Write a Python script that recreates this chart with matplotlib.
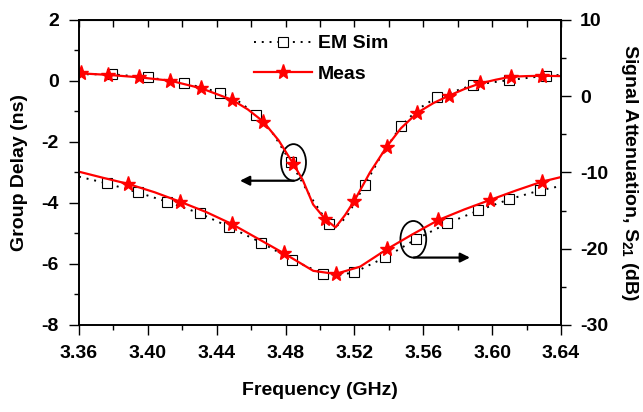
"""
Group delay and S21 of the NGD circuit: EM simulation vs measurement.
"""

import matplotlib
matplotlib.use('Agg')
import matplotlib.pyplot as plt
from matplotlib.lines import Line2D
from matplotlib.patches import Ellipse
from matplotlib.ticker import MultipleLocator, FormatStrFormatter

# ---- data ----
# group delay, measured (ns); *_mark flags where a star marker sits
gd_meas_f = [3.360, 3.361, 3.377, 3.395, 3.413, 3.431, 3.449, 3.458, 3.467, 3.476,
             3.4845, 3.490, 3.496, 3.503, 3.509, 3.5145, 3.520, 3.529, 3.5388, 3.547,
             3.5566, 3.566, 3.575, 3.584, 3.593, 3.602, 3.6108, 3.620, 3.6288, 3.640]
gd_meas = [0.22, 0.25, 0.20, 0.12, 0.01, -0.24, -0.62, -0.93, -1.33, -1.95,
           -2.72, -3.25, -4.05, -4.53, -4.80, -4.40, -3.92, -3.00, -2.15, -1.55,
           -1.04, -0.72, -0.48, -0.26, -0.08, 0.04, 0.14, 0.16, 0.17, 0.16]
gd_meas_mark = [0, 1, 1, 1, 1, 1, 1, 0, 1, 0,
                1, 0, 0, 1, 0, 0, 1, 0, 1, 0,
                1, 0, 1, 0, 1, 0, 1, 0, 1, 0]

# group delay, EM simulation (ns)
gd_sim_f = [3.360, 3.379, 3.400, 3.421, 3.442, 3.453, 3.463, 3.473, 3.483, 3.494,
            3.505, 3.509, 3.5155, 3.526, 3.536, 3.547, 3.557, 3.568, 3.589, 3.610,
            3.631, 3.640]
gd_sim = [0.22, 0.22, 0.12, -0.06, -0.38, -0.68, -1.11, -1.75, -2.66, -3.75,
          -4.69, -4.80, -4.45, -3.41, -2.40, -1.48, -0.92, -0.53, -0.13, 0.03,
          0.17, 0.20]
gd_sim_mark = [0, 1, 1, 1, 1, 0, 1, 0, 1, 0,
               1, 0, 0, 1, 0, 1, 0, 1, 1, 1,
               1, 0]

# S21, measured (dB)
s21_meas_f = [3.360, 3.374, 3.3886, 3.404, 3.4187, 3.434, 3.4487, 3.4637, 3.479, 3.4961,
              3.509, 3.5233, 3.5388, 3.5538, 3.5688, 3.5838, 3.5988, 3.614, 3.629, 3.640]
s21_meas = [-9.9, -10.7, -11.5, -12.6, -13.83, -15.2, -16.75, -18.65, -20.6, -22.9,
            -23.31, -22.35, -20.07, -18.1, -16.23, -14.85, -13.6, -12.35, -11.2, -10.6]
s21_meas_mark = [0, 0, 1, 0, 1, 0, 1, 0, 1, 0,
                 1, 0, 1, 0, 1, 0, 1, 0, 1, 0]

# S21, EM simulation (dB)
s21_sim_f = [3.360, 3.376, 3.394, 3.411, 3.430, 3.447, 3.466, 3.484, 3.502, 3.511,
             3.520, 3.538, 3.556, 3.574, 3.592, 3.610, 3.628, 3.640]
s21_sim = [-10.55, -11.42, -12.6, -13.83, -15.35, -17.11, -19.21, -21.48, -23.31, -23.45,
           -23.09, -21.12, -18.72, -16.66, -14.98, -13.51, -12.33, -11.77]
s21_sim_mark = [0, 1, 1, 1, 1, 1, 1, 1, 1, 0,
                1, 1, 1, 1, 1, 1, 1, 0]

# ---- style ----
plt.rcParams['font.family'] = ['Liberation Sans', 'DejaVu Sans']
plt.rcParams['font.weight'] = 'bold'
plt.rcParams['axes.unicode_minus'] = False
plt.rcParams['mathtext.fontset'] = 'custom'
plt.rcParams['mathtext.rm'] = 'Liberation Sans:bold'
plt.rcParams['mathtext.bf'] = 'Liberation Sans:bold'

FS = 14
sim_style = dict(color='black', linestyle=(0, (1, 3)), linewidth=1.4,
                 marker='s', markersize=6.5, markerfacecolor='white',
                 markeredgecolor='black', markeredgewidth=0.8)
meas_style = dict(color='red', linestyle='-', linewidth=1.6,
                  marker='*', markersize=11, markerfacecolor='red',
                  markeredgecolor='red')

fig = plt.figure(figsize=(6.43, 4.12), dpi=100)
ax = fig.add_axes([0.1229, 0.2112, 0.7496, 0.7403])
ax2 = ax.twinx()

# group delay on left axis
ax.plot(gd_sim_f, gd_sim, markevery=[bool(m) for m in gd_sim_mark], **sim_style)
ax.plot(gd_meas_f, gd_meas, markevery=[bool(m) for m in gd_meas_mark], **meas_style)

# S21 on right axis
ax2.plot(s21_sim_f, s21_sim, markevery=[bool(m) for m in s21_sim_mark], **sim_style)
ax2.plot(s21_meas_f, s21_meas, markevery=[bool(m) for m in s21_meas_mark], **meas_style)

# axes limits / ticks
ax.set_xlim(3.36, 3.64)
ax.set_ylim(-8, 2)
ax2.set_ylim(-30, 10)
ax.xaxis.set_major_locator(MultipleLocator(0.04))
ax.xaxis.set_minor_locator(MultipleLocator(0.02))
ax.xaxis.set_major_formatter(FormatStrFormatter('%.2f'))
ax.yaxis.set_major_locator(MultipleLocator(2))
ax.yaxis.set_minor_locator(MultipleLocator(1))
ax2.yaxis.set_major_locator(MultipleLocator(10))
ax2.yaxis.set_minor_locator(MultipleLocator(5))

ax.tick_params(which='major', direction='out', length=7.5, width=1, labelsize=FS, pad=7)
ax.tick_params(which='minor', direction='out', length=3.5, width=1)
ax2.tick_params(which='major', direction='out', length=7.5, width=1, labelsize=FS, pad=6)
ax2.tick_params(which='minor', direction='out', length=3.5, width=1)

# top ticks point inward, no labels
top = ax.secondary_xaxis('top')
top.xaxis.set_major_locator(MultipleLocator(0.02))
top.tick_params(direction='in', length=5, width=1, labeltop=False)

for a in (ax, ax2):
    for sp in a.spines.values():
        sp.set_linewidth(1.2)

ax.set_xlabel('Frequency (GHz)', fontsize=FS, fontweight='bold', labelpad=14)
ax.set_ylabel('Group Delay (ns)', fontsize=FS, fontweight='bold', labelpad=10)
ax2.set_ylabel(r'Signal Attenuation, S$_{\mathbf{21}}$ (dB)', fontsize=FS,
               fontweight='bold', rotation=270, labelpad=23)

# ellipses + arrows pointing to the matching axis
ax.add_patch(Ellipse((3.4846, -2.67), 0.0145, 1.2, fill=False, edgecolor='black', linewidth=1.3))
ax.annotate('', xy=(3.4535, -3.27), xytext=(3.4848, -3.27),
            arrowprops=dict(arrowstyle='-|>', color='black', linewidth=1.6,
                            mutation_scale=14, shrinkA=0, shrinkB=0))
ax.add_patch(Ellipse((3.5542, -5.19), 0.0150, 1.2, fill=False, edgecolor='black', linewidth=1.3))
ax.annotate('', xy=(3.5871, -5.79), xytext=(3.5545, -5.79),
            arrowprops=dict(arrowstyle='-|>', color='black', linewidth=1.6,
                            mutation_scale=14, shrinkA=0, shrinkB=0))

# legend
handles = [Line2D([], [], **sim_style), Line2D([], [], **meas_style)]
ax.legend(handles, ['EM Sim', 'Meas'], loc='upper left', bbox_to_anchor=(0.347, 0.977),
          frameon=False, fontsize=FS, handlelength=3.0, handletextpad=0.3,
          labelspacing=0.65, numpoints=1, borderaxespad=0)

fig.savefig('out.png', dpi=100)
